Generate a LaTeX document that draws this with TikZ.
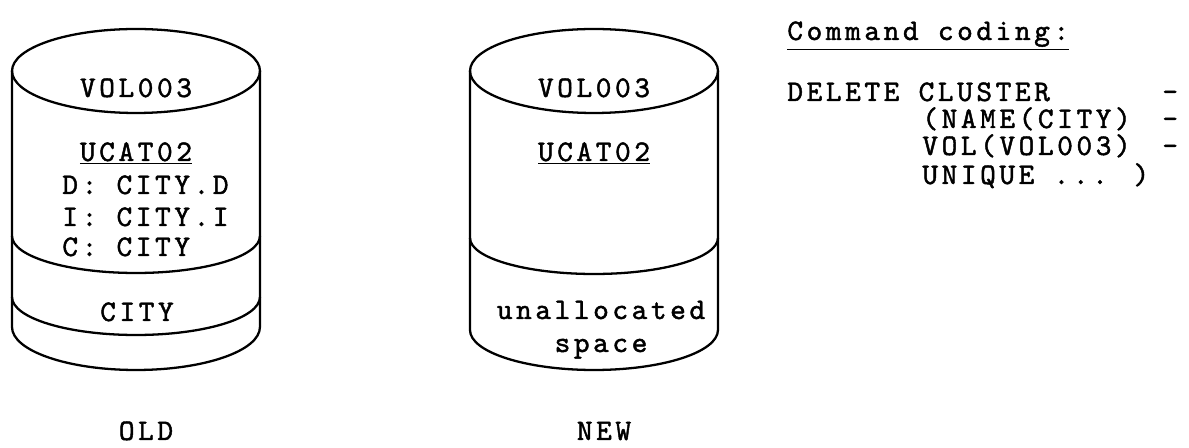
\documentclass[tikz,border=0pt]{standalone}
\usepackage{fontspec}
\newfontfamily\typefont{lmmono10-regular.otf}[LetterSpace=12,FakeBold=1.5]

\begin{document}
\begin{tikzpicture}[x=0.02cm, y=0.02cm,
  disk/.style={line width=1.3pt, line join=round},
  txt/.style={font=\typefont\fontsize{17}{20}\selectfont, inner sep=0pt, anchor=base},
  lbl/.style={txt, anchor=base west}
]
  \useasboundingbox (0,0) rectangle (1189,-448);

  % old volume
  \draw[disk] (136,-71) ellipse [x radius=2.48cm, y radius=0.84cm];
  \draw[disk] (12,-71) -- (12,-327)
    arc [start angle=180, end angle=360, x radius=2.48cm, y radius=0.86cm] -- (260,-71);
  \draw[disk] (12,-236) arc [start angle=180, end angle=360, x radius=2.48cm, y radius=0.74cm];
  \draw[disk] (12,-297) arc [start angle=180, end angle=360, x radius=2.48cm, y radius=0.76cm];

  \node[txt] (oldvol) at (136,-97) {VOL003};
  \node[txt] (oldcat) at (136,-161) {\underline{UCAT02}};
  \node[lbl] (olddata) at (62,-194) {D: CITY.D};
  \node[lbl] (oldindex) at (62,-226) {I: CITY.I};
  \node[lbl] (oldclus) at (62,-256) {C: CITY};
  \node[txt] (oldcity) at (137,-321) {CITY};
  \node[txt] (oldlbl) at (146,-440) {OLD};

  % new volume
  \draw[disk] (594,-71) ellipse [x radius=2.48cm, y radius=0.84cm];
  \draw[disk] (470,-71) -- (470,-330)
    arc [start angle=180, end angle=360, x radius=2.48cm, y radius=0.80cm] -- (718,-71);
  \draw[disk] (470,-238) arc [start angle=180, end angle=360, x radius=2.48cm, y radius=0.72cm];

  \node[txt] (newvol) at (594,-97) {VOL003};
  \node[txt] (newcat) at (594,-161) {\underline{UCAT02}};
  \node[txt] (newfree) at (601,-319) {unallocated};
  \node[txt] (newspace) at (601,-352) {space};
  \node[txt] (newlbl) at (604,-440) {NEW};

  % command
  \node[lbl] (cmdhead) at (787,-40) {\underline{Command coding:}};
  \node[lbl] (cmddel) at (787,-101) {DELETE CLUSTER};
  \node[lbl] (cmdname) at (922,-128) {(NAME(CITY)};
  \node[lbl] (cmdvol) at (922,-155) {VOL(VOL003)};
  \node[lbl] (cmduniq) at (922,-184) {UNIQUE ... )};
  \node[lbl] (dash1) at (1162,-101) {-};
  \node[lbl] (dash2) at (1162,-128) {-};
  \node[lbl] (dash3) at (1162,-155) {-};
\end{tikzpicture}
\end{document}
